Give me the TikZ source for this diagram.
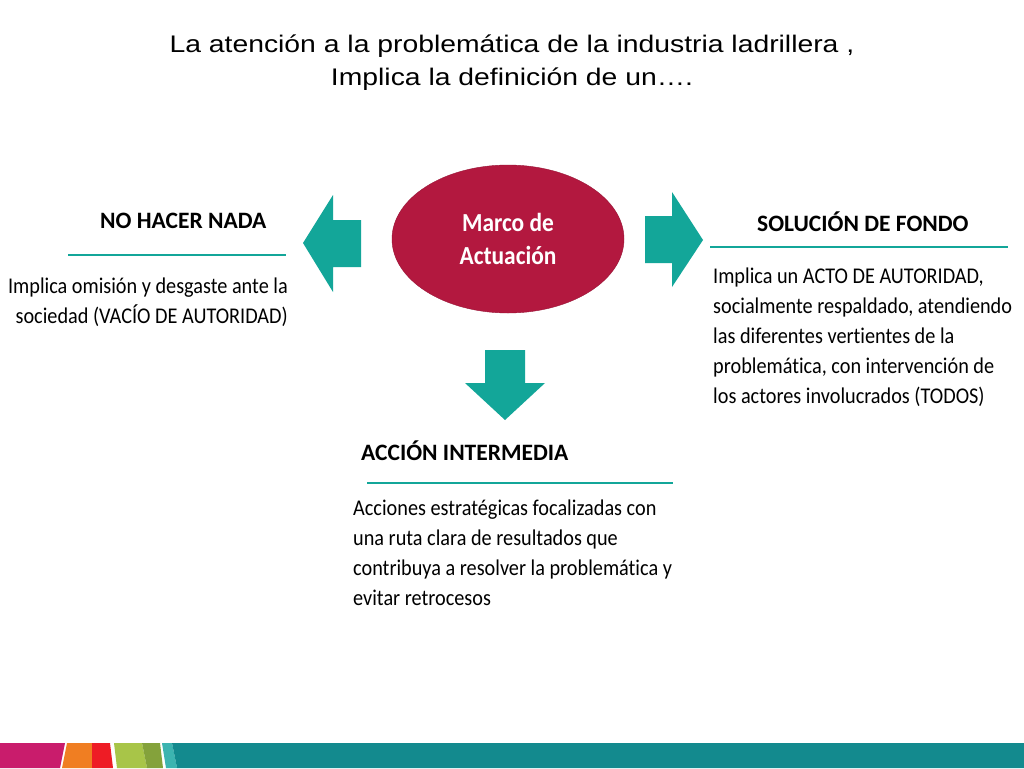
\documentclass[tikz,border=0pt]{standalone}
\usepackage{fontspec}
\setmainfont{Carlito}[Ligatures=NoCommon]
\newfontfamily\titlefont{Liberation Sans}[FakeStretch=1.18]
\newfontfamily\bodyfont{Carlito}[Ligatures=NoCommon,FakeStretch=0.9]
\usetikzlibrary{shapes}

\definecolor{marco}{HTML}{B3183F}
\definecolor{verdeazul}{HTML}{13A699}
\definecolor{magenta1}{HTML}{C91C6C}
\definecolor{naranja}{HTML}{F07E22}
\definecolor{rojo}{HTML}{EE1C25}
\definecolor{verde1}{HTML}{A8C548}
\definecolor{verde2}{HTML}{84A23B}
\definecolor{teal1}{HTML}{3CB4B0}
\definecolor{teal2}{HTML}{138A8E}

\tikzset{
  heading/.style={font=\bfseries\fontsize{23.5}{28}\selectfont,inner sep=0pt,anchor=base west},
  bodytext/.style={font=\bodyfont\fontsize{22.5}{30}\selectfont,inner sep=0pt},
  rule/.style={draw=verdeazul,line width=2.5pt},
  blockarrow/.style={fill=verdeazul}
}

\begin{document}
\begin{tikzpicture}[x=1pt,y=-1pt]
      \useasboundingbox (0,0) rectangle (1024,768);
      \fill[white] (0,0) rectangle (1024,768);
      % title
      \node[font=\titlefont\fontsize{24}{33}\selectfont,align=center,inner sep=0pt] (title) at (512,63)
        {La atención a la problemática de la industria ladrillera ,\\Implica la definición de un….};
      % centre
      \node[ellipse,fill=marco,draw=marco!85!black,minimum width=232pt,minimum height=148pt,
        text=white,font=\bodyfont\bfseries\fontsize{26}{33}\selectfont,align=center] (marco) at (508,239)
        {Marco de\\Actuación};
      \fill[blockarrow] (361,220) -- (333,220) -- (333,195) -- (303,243) -- (333,292) -- (333,267) -- (361,267) -- cycle;
      \fill[blockarrow] (645,216) -- (672,216) -- (672,192) -- (703,240) -- (672,287) -- (672,263) -- (645,263) -- cycle;
      \fill[blockarrow] (485,350) -- (525,350) -- (525,383) -- (545,383) -- (505,420) -- (465,383) -- (485,383) -- cycle;
      % left
      \node[heading] (nada) at (100,228) {NO HACER NADA};
      \draw[rule] (68,255) -- (286,255);
      \node[bodytext,align=right,anchor=north east] (nadatxt) at (288,278)
        {Implica omisión y desgaste ante la\\sociedad (VACÍO DE AUTORIDAD)};
      % right
      \node[heading] (fondo) at (757,231) {SOLUCIÓN DE FONDO};
      \draw[rule] (710,247) -- (1008,247);
      \node[bodytext,align=left,anchor=north west] (fondotxt) at (713,268)
        {Implica un ACTO DE AUTORIDAD,\\socialmente respaldado, atendiendo\\las diferentes vertientes de la\\problemática, con intervención de\\los actores involucrados (TODOS)};
      % bottom
      \node[heading] (accion) at (361,460) {ACCIÓN INTERMEDIA};
      \draw[rule] (367,483) -- (673,483);
      \node[bodytext,align=left,anchor=north west] (acciontxt) at (353,500)
        {Acciones estratégicas focalizadas con\\una ruta clara de resultados que\\contribuya a resolver la problemática y\\evitar retrocesos};
      % stripe
      \foreach \c/\a/\b/\d/\e in {magenta1/0/65/60/0, naranja/67/92/92/62, rojo/92/110/113/92,
        verde1/114/142/147/117, verde2/142/160/163/147, teal1/162/172/177/166, teal2/172/1024/1024/177}
        \fill[\c] (\a,743) -- (\b,743) -- (\d,768) -- (\e,768) -- cycle;
    \end{tikzpicture}
\end{document}
